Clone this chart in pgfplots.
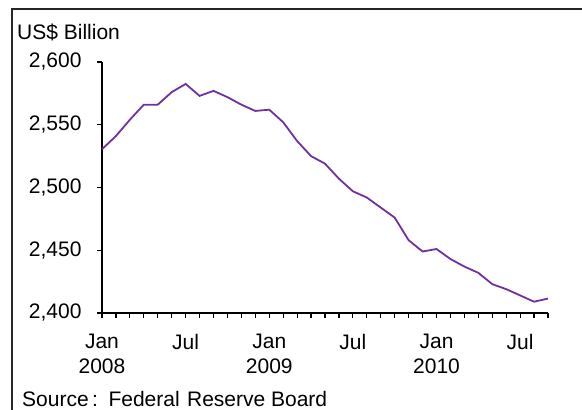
\documentclass[border=0pt]{standalone}
\usepackage{pgfplots}
\pgfplotsset{compat=1.18}
\usepackage{fontspec}
\setmainfont{Liberation Sans}
\definecolor{linepurple}{RGB}{112,48,160}
\begin{document}
\begin{tikzpicture}[x=1bp,y=1bp]
\useasboundingbox (0,0) rectangle (582,409);
\draw[line width=1.3bp, black!85] (12,-2) -- (12,400) -- (584,400);
\node[anchor=base west, inner sep=0pt, font=\fontsize{21bp}{25bp}\selectfont] at (17,370) {US\$ Billion};
\node[anchor=base west, inner sep=0pt, font=\fontsize{21bp}{25bp}\selectfont] at (22,3) {Source\,:\hspace{0.5em}Federal\hspace{0.35em}Reserve Board};
\begin{axis}[
  at={(102bp,96bp)}, anchor=south west,
  scale only axis, width=446bp, height=251bp,
  xmin=0, xmax=32, ymin=2400, ymax=2600,
  axis x line*=bottom, axis y line*=left,
  axis line style={-, line width=1.6bp, black},
  tick align=outside,
  major tick length=5bp, minor tick length=5bp,
  every tick/.style={black, line width=1.2bp},
  xtick={0,6,12,18,24,30},
  minor xtick={1,...,32},
  xticklabels={Jan\\2008,Jul,Jan\\2009,Jul,Jan\\2010,Jul},
  ytick={2400,2450,2500,2550,2600},
  /pgf/number format/1000 sep={,},
  /pgf/number format/assume math mode=true,
  ticklabel style={font=\fontsize{21bp}{25bp}\selectfont},
  xticklabel style={align=center, yshift=-13bp},
  yticklabel style={xshift=-12bp},
  clip=false,
]
\addplot[linepurple, line width=1.8bp, mark=none] coordinates {
(0,2530.5) (1,2541) (2,2554) (3,2566) (4,2566) (5,2576) (6,2582.5) (7,2573)
(8,2577) (9,2572) (10,2566) (11,2561) (12,2562) (13,2552) (14,2537) (15,2525)
(16,2519) (17,2507) (18,2497) (19,2492) (20,2484) (21,2476) (22,2458) (23,2449)
(24,2451) (25,2443) (26,2437) (27,2432) (28,2423) (29,2419) (30,2414) (31,2409)
(32,2411.5)
};
\end{axis}
\end{tikzpicture}
\end{document}
